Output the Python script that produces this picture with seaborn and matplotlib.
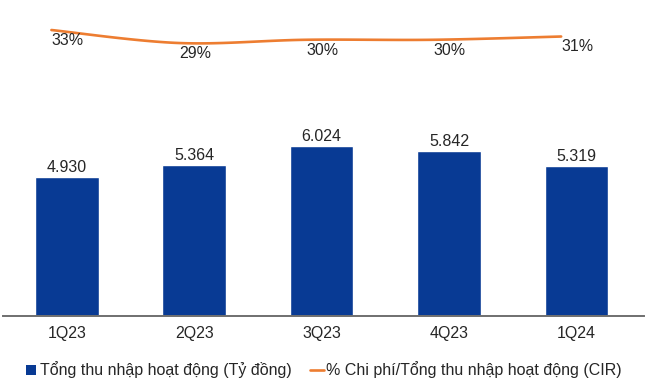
import numpy as np
import pandas as pd
import seaborn as sns
import matplotlib.pyplot as plt
from matplotlib.patches import Patch, Rectangle
from matplotlib.lines import Line2D
from matplotlib.legend_handler import HandlerPatch

# ===== data =====
quarters = ["1Q23", "2Q23", "3Q23", "4Q23", "1Q24"]
income = [4930, 5364, 6024, 5842, 5319]      # Tỷ đồng
cir = [33, 29, 30, 30, 31]                   # %

BAR_COLOR = "#083A94"
LINE_COLOR = "#ED7D31"
FS = 11.5

sns.set_theme(style="white")
plt.rcParams['font.family'] = ['Liberation Sans', 'DejaVu Sans']

fig = plt.figure(figsize=(6.6, 3.82), dpi=100)
ax = fig.add_axes([3 / 660, 66 / 382, 641 / 660, 311 / 382])

df = pd.DataFrame({"q": quarters, "v": income})
sns.barplot(data=df, x="q", y="v", color=BAR_COLOR, width=0.5, saturation=1, ax=ax)
ax.set_xlim(-0.5, 4.53)
ax.set_ylim(0, 11030)

for i, v in enumerate(income):
    ax.annotate(f"{v:,}".replace(",", "."), (i, v), xytext=(0, 1.5),
                textcoords="offset points", ha="center", va="bottom", fontsize=FS)

for s in ["top", "left", "right"]:
    ax.spines[s].set_visible(False)
ax.spines["bottom"].set_color("#6f6f6f")
ax.spines["bottom"].set_linewidth(1.4)
ax.set_yticks([])
ax.set_xlabel("")
ax.set_ylabel("")
ax.tick_params(axis="x", length=0, pad=7, labelsize=FS)

# ===== CIR line (secondary axis, smoothed) =====
ax2 = ax.twinx()
ax2.set_ylim(-55, 40.7)
ax2.axis("off")

xs = np.arange(len(cir)) - 0.12
ys = np.array(cir, dtype=float)
# Catmull-Rom smoothing for the rendered curve
px = np.concatenate([[xs[0]], xs, [xs[-1]]])
py = np.concatenate([[ys[0]], ys, [ys[-1]]])
cx, cy = [], []
for k in range(1, len(px) - 2):
    t = np.linspace(0, 1, 30)
    for arr, out in ((px, cx), (py, cy)):
        p0, p1, p2, p3 = arr[k - 1], arr[k], arr[k + 1], arr[k + 2]
        out.extend(0.5 * ((2 * p1) + (-p0 + p2) * t + (2 * p0 - 5 * p1 + 4 * p2 - p3) * t ** 2
                          + (-p0 + 3 * p1 - 3 * p2 + p3) * t ** 3))
sns.lineplot(x=cx, y=cy, sort=False, color=LINE_COLOR, lw=1.9, ax=ax2)

for x, y in zip(xs, ys):
    ax2.annotate(f"{y:.0f}%", (x, y), xytext=(0, -7.5), textcoords="offset points",
                 ha="left", va="center", fontsize=FS)


# ===== legend =====
def small_square(legend, orig_handle, xdescent, ydescent, width, height, fontsize):
    s = height * 0.95
    return Rectangle((width - s - 1 - xdescent, -ydescent + (height - s) / 2), s, s)


handles = [Patch(facecolor=BAR_COLOR, edgecolor="none"),
           Line2D([], [], color=LINE_COLOR, lw=1.9)]
labels = ["Tổng thu nhập hoạt động (Tỷ đồng)", "% Chi phí/Tổng thu nhập hoạt động (CIR)"]
fig.legend(handles, labels, loc="center", bbox_to_anchor=(0.489, 12 / 382), ncol=2,
           frameon=False, fontsize=FS, handlelength=0.85, handleheight=0.6,
           handletextpad=0.15, columnspacing=1.15,
           handler_map={Patch: HandlerPatch(patch_func=small_square)})

fig.savefig("out.png", dpi=100)
